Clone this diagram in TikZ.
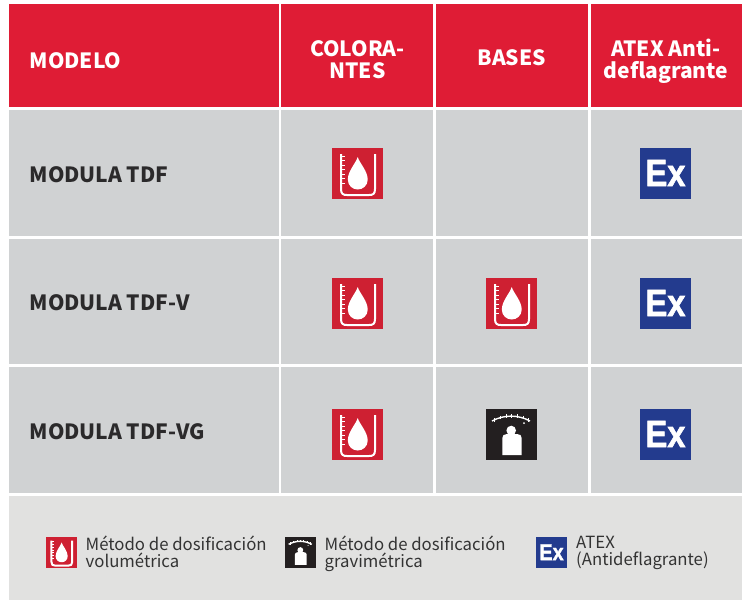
\documentclass[tikz,border=0pt]{standalone}
\usepackage{fontspec}
\setmainfont{Noto Sans CJK SC}
\newfontfamily\exfont{Liberation Sans Bold}[FakeBold=1.6]
\definecolor{hdrred}{HTML}{DF1C35}
\definecolor{iconred}{HTML}{CE2032}
\definecolor{cellgrey}{HTML}{D0D2D3}
\definecolor{leggrey}{HTML}{E1E1E0}
\definecolor{iconblack}{HTML}{231F20}
\definecolor{exblue}{HTML}{233B8E}
\definecolor{labeldark}{HTML}{2B2A2B}
\definecolor{legtext}{HTML}{333333}
\tikzset{
  x=1pt,y=-1pt,
  hdrcell/.style={fill=hdrred,draw=none},
  bodycell/.style={fill=cellgrey,draw=none},
  hdrtext/.style={text=white,font=\fontsize{21}{22}\selectfont\bfseries,align=center,inner sep=0pt,anchor=base},
  rowtext/.style={text=labeldark,font=\fontsize{21}{25}\selectfont\bfseries,anchor=base west,inner sep=0pt},
  legtxt/.style={text=legtext,font=\fontsize{16.75}{17}\selectfont,align=left,anchor=base west,inner sep=0pt},
  pics/dropicon/.style={code={
    \fill[iconred] (0,0) rectangle (51,51);
    \draw[white,line width=2pt,line join=round] (9,6) -- (9,41) .. controls (9,46) and (11,47) .. (15,47) -- (37,47) .. controls (41,47) and (43,46) .. (43,41) -- (43,6);
    \foreach \ty in {8,12.5,17,21.5,26,30.5,35}{\draw[white,line width=.9pt] (9,\ty) -- (12.8,\ty);}
    \fill[white] (25.7,9) .. controls (27.5,15) and (35.7,23) .. (35.7,31.5) .. controls (35.7,37.5) and (31,41.5) .. (25.7,41.5) .. controls (20.5,41.5) and (15.8,37.5) .. (15.8,31.5) .. controls (15.8,23) and (24,15) .. (25.7,9) -- cycle;
  }},
  pics/weighticon/.style={code={
    \fill[iconblack] (0,0) rectangle (51,51);
    \draw[white,line width=1.4pt] (6,12) .. controls (18,5.5) and (32,5.5) .. (44,12);
    \foreach \tx/\ty in {8.5/10.8,14/8.6,20/7.2,25.5/6.8,31/7.2,37/8.6,42/10.8}{\draw[white,line width=.9pt] (\tx,\ty-1.8) -- (\tx,\ty+1.8);}
    \fill[white] (38,14) circle (1);
    \fill[white] (25.2,21.5) circle (4.8);
    \fill[white] (16.3,46) -- (16.3,29) .. controls (16.3,26.5) and (18,25) .. (21,25) -- (31,25) .. controls (34,25) and (35.7,26.5) .. (35.7,29) -- (35.7,46) -- cycle;
  }},
  pics/exicon/.style={code={
    \fill[exblue] (0,0) rectangle (51,51);
    \node[inner sep=0pt,text=white,font=\exfont\fontsize{38}{38}\selectfont,transform shape,xscale=.86] at (25.5,25) {Ex};
  }},
}
\begin{document}
\begin{tikzpicture}
\useasboundingbox (0,0) rectangle (749,600);
\fill[white] (0,0) rectangle (749,600);
% header
\path[hdrcell] (9,4) rectangle (278.5,107);
\path[hdrcell] (281,4) rectangle (433,107);
\path[hdrcell] (436,4) rectangle (587.5,107);
\path[hdrcell] (590.5,4) rectangle (742,107);
% body rows
\foreach \ya/\yb in {110/236,239/364,367/493}{
  \path[bodycell] (9,\ya) rectangle (278.5,\yb);
  \path[bodycell] (281,\ya) rectangle (433,\yb);
  \path[bodycell] (436,\ya) rectangle (587.5,\yb);
  \path[bodycell] (590.5,\ya) rectangle (742,\yb);
}
\fill[leggrey] (9,495.5) rectangle (742,600);
% header text
\node[hdrtext,anchor=base west] (hmodelo) at (29.5,68) {MODELO};
\node[hdrtext] (hcol) at (357.5,78.5) {COLORA-\\NTES};
\node[hdrtext] (hbases) at (511.7,65) {BASES};
\node[hdrtext] (hatex) at (666,78.5) {ATEX Anti-\\deflagrante};
% rows
\node[rowtext] (r1) at (29.5,182) {MODULA TDF};
\node[rowtext] (r2) at (29.5,310) {MODULA TDF-V};
\node[rowtext] (r3) at (29.5,439) {MODULA TDF-VG};
% icons
\pic at (332,148) {dropicon};
\pic at (332,278) {dropicon};
\pic at (332,409) {dropicon};
\pic at (486,278) {dropicon};
\pic at (486,409) {weighticon};
\pic at (640,148) {exicon};
\pic at (640,278) {exicon};
\pic at (640,409) {exicon};
% legend
\pic[scale=.608,transform shape] at (46,537) {dropicon};
\pic[scale=.608,transform shape] at (285,537) {weighticon};
\pic[scale=.608,transform shape] at (536,537) {exicon};
\node[legtxt] (l1) at (85.5,567) {Método de dosificación\\volumétrica};
\node[legtxt] (l2) at (324.5,567) {Método de dosificación\\gravimétrica};
\node[legtxt] (l3) at (576,565) {ATEX\\(Antideflagrante)};
\end{tikzpicture}
\end{document}
